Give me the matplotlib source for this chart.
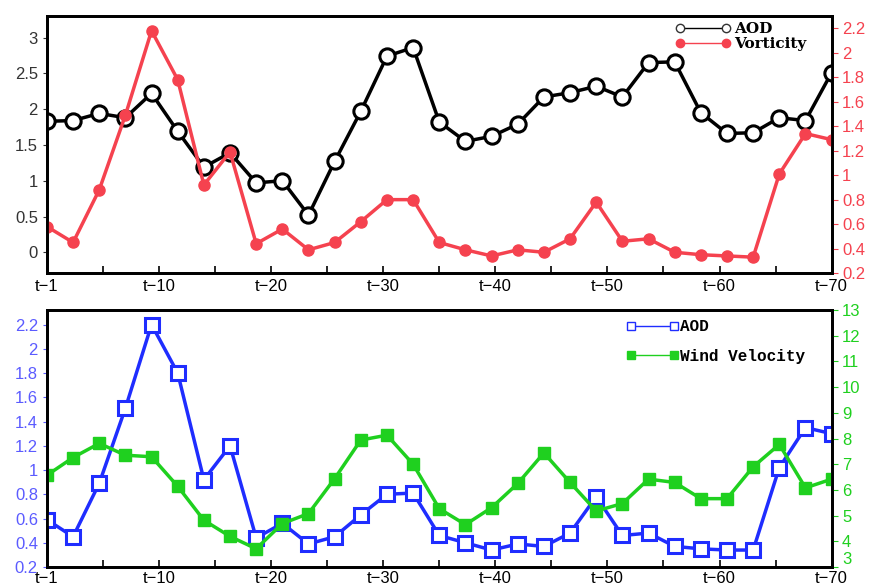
import numpy as np
import matplotlib.pyplot as plt
from matplotlib.ticker import FixedLocator, MultipleLocator

# 31 time steps from t-1 to t-70
n_steps = 31
tick_pos = [0, 10, 20, 30, 40, 50, 60, 70]
tick_labels = ['t\u22121', 't\u221210', 't\u221220', 't\u221230',
               't\u221240', 't\u221250', 't\u221260', 't\u221270']

aod_top = [1.83, 1.84, 1.94, 1.88, 2.22, 1.69, 1.19, 1.39, 0.97, 1.00,
           0.52, 1.27, 1.97, 2.74, 2.86, 1.82, 1.55, 1.62, 1.79, 2.17,
           2.23, 2.32, 2.17, 2.65, 2.66, 1.95, 1.66, 1.67, 1.88, 1.84, 2.51]
vorticity = [0.58, 0.45, 0.88, 1.49, 2.18, 1.78, 0.92, 1.19, 0.44, 0.56,
             0.39, 0.45, 0.62, 0.80, 0.80, 0.45, 0.39, 0.34, 0.39, 0.37,
             0.48, 0.78, 0.46, 0.48, 0.37, 0.35, 0.34, 0.33, 1.01, 1.34, 1.29]

aod_bot = [0.59, 0.45, 0.89, 1.51, 2.20, 1.80, 0.92, 1.20, 0.44, 0.56,
           0.39, 0.45, 0.63, 0.80, 0.81, 0.46, 0.40, 0.34, 0.39, 0.37,
           0.48, 0.78, 0.46, 0.48, 0.37, 0.35, 0.34, 0.34, 1.02, 1.35, 1.30]
wind = [6.57, 7.26, 7.81, 7.35, 7.29, 6.14, 4.82, 4.19, 3.71, 4.69,
        5.08, 6.44, 7.94, 8.13, 7.00, 5.27, 4.65, 5.31, 6.25, 7.44,
        6.29, 5.18, 5.47, 6.42, 6.29, 5.66, 5.66, 6.90, 7.77, 6.08, 6.42]

x = np.linspace(0, 70, n_steps)

plt.rcParams['font.family'] = 'Liberation Sans'
RED = '#f5424f'
BLUE = '#1f2dff'
GREEN = '#1fd01f'

fig = plt.figure(figsize=(8.69, 5.86), dpi=100)
ax1 = fig.add_axes([0.054, 0.534, 0.903, 0.4386])
ax3 = fig.add_axes([0.054, 0.0324, 0.903, 0.4386])


def style_x(ax, pad=4):
  ax.set_xlim(0, 70)
  ax.set_xticks(tick_pos)
  ax.set_xticklabels(tick_labels)
  ax.xaxis.set_minor_locator(FixedLocator([5, 15, 25, 35, 45, 55, 65]))
  ax.tick_params(axis='x', which='both', direction='in', length=5, width=1.2,
                 labelsize=12, pad=pad)
  for s in ax.spines.values():
    s.set_linewidth(2)


# Top panel: AOD vs Vorticity
ax1.plot(x, aod_top, color='black', lw=2.5, marker='o', ms=11,
         mfc='white', mec='black', mew=2.2, zorder=3)
ax1.set_ylim(-0.29, 3.3)
ax1.set_yticks([0, 0.5, 1, 1.5, 2, 2.5, 3])
ax1.set_yticklabels(['0', '0.5', '1', '1.5', '2', '2.5', '3'])
ax1.tick_params(axis='y', direction='out', length=3, labelsize=12,
                colors='#333333')
style_x(ax1)

ax2 = ax1.twinx()
ax2.plot(x, vorticity, color=RED, lw=2.5, marker='o', ms=8, mfc=RED,
         mec=RED, zorder=2)
ax2.set_ylim(0.2, 2.3)
ax2.yaxis.set_major_locator(MultipleLocator(0.2))
ax2.set_yticklabels([('%g' % v) for v in np.round(ax2.get_yticks(), 1)])
ax2.tick_params(axis='y', direction='out', length=4, labelsize=12,
                colors=RED, labelcolor=RED)
ax2.set_ylim(0.2, 2.3)
for s in ax2.spines.values():
  s.set_linewidth(2)

h1 = plt.Line2D([], [], color='black', lw=1, marker='o', ms=6, mfc='white',
                mec='#333333')
h2 = plt.Line2D([], [], color=RED, lw=1, marker='o', ms=6, mfc=RED, mec=RED)
ax2.legend([h1, h2], ['AOD', 'Vorticity'], loc='upper right',
           bbox_to_anchor=(0.985, 1.03), frameon=False, numpoints=2,
           handlelength=3.6, handletextpad=0.2, labelspacing=0.05,
           prop={'family': 'DejaVu Serif', 'weight': 'bold', 'size': 11})

# Bottom panel: AOD vs Wind Velocity
ax3.plot(x, aod_bot, color=BLUE, lw=2.5, marker='s', ms=10, mfc='white',
         mec=BLUE, mew=2.2, zorder=3)
ax3.set_ylim(0.2, 2.32)
ax3.yaxis.set_major_locator(MultipleLocator(0.2))
ax3.set_yticklabels([('%g' % v) for v in np.round(ax3.get_yticks(), 1)])
ax3.set_ylim(0.2, 2.32)
ax3.tick_params(axis='y', direction='out', length=3, labelsize=12,
                colors='#5b5bff')
style_x(ax3, pad=3)

ax4 = ax3.twinx()
ax4.plot(x, wind, color=GREEN, lw=2.5, marker='s', ms=8, mfc=GREEN,
         mec=GREEN, zorder=2)
ax4.set_ylim(3, 13)
ax4.set_yticks(range(3, 14))
ax4.tick_params(axis='y', direction='out', length=4, labelsize=12,
                colors=GREEN)
for s in ax4.spines.values():
  s.set_linewidth(2)
# lift the lowest label a little so it clears the t-70 label
ax4.get_yticklabels()[0].set_verticalalignment('bottom')

h3 = plt.Line2D([], [], color=BLUE, lw=1, marker='s', ms=6, mfc='white',
                mec=BLUE)
h4 = plt.Line2D([], [], color=GREEN, lw=1, marker='s', ms=6, mfc=GREEN,
                mec=GREEN)
ax4.legend([h3, h4], ['AOD', 'Wind Velocity'], loc='upper right',
           bbox_to_anchor=(0.985, 1.02), frameon=False, numpoints=2,
           handlelength=3.3, handletextpad=0.1, labelspacing=0.9,
           prop={'family': 'Liberation Mono', 'weight': 'bold', 'size': 11.5})

fig.savefig('out.png', dpi=100)
